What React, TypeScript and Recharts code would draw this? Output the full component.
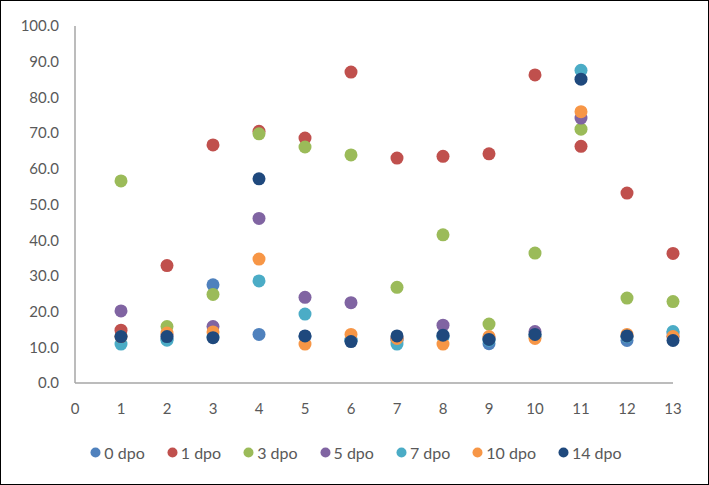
import { ScatterChart, Scatter, XAxis, YAxis, Legend } from "recharts";

const days = [1, 2, 3, 4, 5, 6, 7, 8, 9, 10, 11, 12, 13];

const dpo0 = [13.0, 12.3, 27.5, 13.6, 13.0, 12.0, 12.0, 13.0, 11.0, 13.5, null, 11.9, 14.0];
const dpo1 = [14.8, 32.9, 66.7, 70.5, 68.6, 87.1, 63.0, 63.5, 64.2, 86.3, 66.3, 53.2, 36.3];
const dpo3 = [56.6, 15.8, 24.8, 69.8, 66.1, 63.9, 26.8, 41.5, 16.5, 36.4, 71.1, 23.8, 22.8];
const dpo5 = [20.2, 13.5, 15.8, 46.1, 24.0, 22.5, 12.5, 16.2, 12.5, 14.4, 74.2, 13.0, 13.0];
const dpo7 = [10.9, 12.0, 13.0, 28.6, 19.3, 12.0, 10.9, 13.0, 12.0, 13.0, 87.6, 13.0, 14.4];
const dpo10 = [13.0, 14.0, 14.3, 34.7, 10.9, 13.6, 12.5, 10.9, 13.0, 12.5, 76.0, 13.6, 13.0];
const dpo14 = [13.0, 13.0, 12.7, 57.2, 13.2, 11.6, 13.2, 13.4, 12.2, 13.6, 85.1, 13.2, 11.9];

const yTicks = [0, 10, 20, 30, 40, 50, 60, 70, 80, 90, 100];
const xTicks = [0, 1, 2, 3, 4, 5, 6, 7, 8, 9, 10, 11, 12, 13];

const series = [
  { name: "0 dpo", values: dpo0, color: "#4F81BD" },
  { name: "1 dpo", values: dpo1, color: "#C0504D" },
  { name: "3 dpo", values: dpo3, color: "#9BBB59" },
  { name: "5 dpo", values: dpo5, color: "#8064A2" },
  { name: "7 dpo", values: dpo7, color: "#4BACC6" },
  { name: "10 dpo", values: dpo10, color: "#F79646" },
  { name: "14 dpo", values: dpo14, color: "#1F497D" },
];

const FONT = "Lato, 'Open Sans', sans-serif";

const toPoints = (values: Array<number | null>) =>
  days
    .map((d, i) => ({ x: d, y: values[i] }))
    .filter((p) => p.y !== null);

const Dot = (props: any) => {
  const { cx, cy, fill } = props;
  if (cx == null || cy == null) return null;
  return <circle cx={cx} cy={cy} r={6.5} fill={fill} />;
};

// legend in series order (recharts sorts by name otherwise)
const LegendContent = () => (
  <div style={{ display: "flex", justifyContent: "center", fontSize: 16, fontFamily: FONT, color: "#595959", height: 20, alignItems: "center" }}>
    {series.map((s, i) => (
      <div key={s.name} style={{ display: "flex", alignItems: "center", marginLeft: i === 0 ? 0 : 22 }}>
        <svg width={11} height={11} style={{ marginRight: 3 }}>
          <circle cx={5.5} cy={5.5} r={5} fill={s.color} />
        </svg>
        <span>{s.name}</span>
      </div>
    ))}
  </div>
);

const tickStyle = { fill: "#595959", fontSize: 15, fontFamily: FONT };

export default function App() {
  return (
    <div
      style={{
        position: "absolute",
        top: 0,
        left: 0,
        width: 707,
        height: 483,
        border: "1px solid #000",
        background: "#fff",
      }}
    >
      <ScatterChart width={707} height={483} margin={{ top: 25, right: 35, left: 0, bottom: 51 }}>
        <XAxis
          type="number"
          dataKey="x"
          domain={[0, 13]}
          ticks={xTicks}
          interval={0}
          tickLine={false}
          axisLine={{ stroke: "#A6A6A6", strokeWidth: 1.5 }}
          tick={tickStyle}
          tickMargin={14}
          height={30}
        />
        <YAxis
          type="number"
          dataKey="y"
          domain={[0, 100]}
          ticks={yTicks}
          interval={0}
          tickLine={false}
          axisLine={{ stroke: "#A6A6A6", strokeWidth: 1.5 }}
          tick={tickStyle}
          tickFormatter={(v: number) => v.toFixed(1)}
          tickMargin={10}
          width={74}
        />
        <Legend verticalAlign="bottom" content={<LegendContent />} wrapperStyle={{ bottom: 22, left: 19 }} />
        {series.map((s) => (
          <Scatter
            key={s.name}
            name={s.name}
            data={toPoints(s.values)}
            fill={s.color}
            shape={<Dot />}
            isAnimationActive={false}
          />
        ))}
      </ScatterChart>
    </div>
  );
}
